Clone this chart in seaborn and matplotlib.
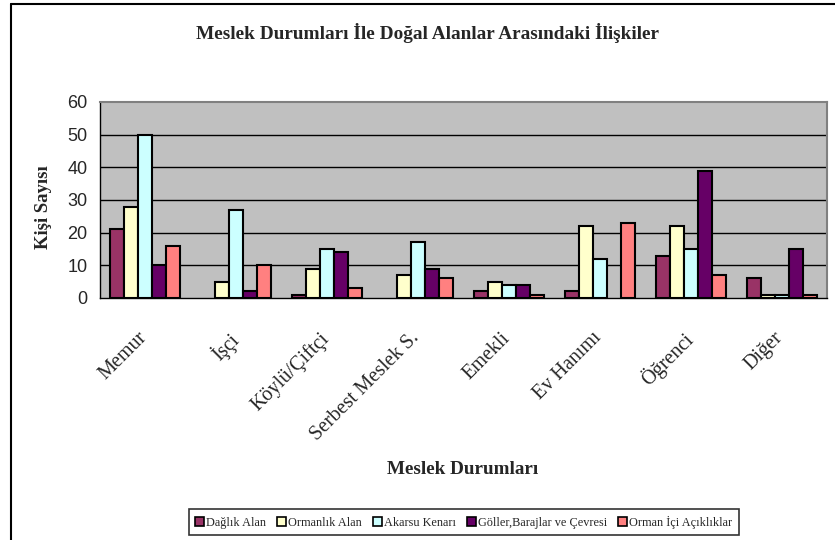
import matplotlib
matplotlib.use("Agg")
import matplotlib.pyplot as plt
from matplotlib.lines import Line2D
import seaborn as sns
import pandas as pd
import numpy as np

# categories and series
meslekler = ["Memur", "İşçi", "Köylü/Çiftçi", "Serbest Meslek S.", "Emekli",
             "Ev Hanımı", "Öğrenci", "Diğer"]
alanlar = ["Dağlık Alan", "Ormanlık Alan", "Akarsu Kenarı",
           "Göller,Barajlar ve Çevresi", "Orman İçi Açıklıklar"]
daglik = [21, 0, 1, 0, 2, 2, 13, 6]
ormanlik = [28, 5, 9, 7, 5, 22, 22, 1]
akarsu = [50, 27, 15, 17, 4, 12, 15, 1]
goller = [10, 2, 14, 9, 4, 0, 39, 15]
orman_ici = [16, 10, 3, 6, 1, 23, 7, 1]
y_ticks = [0, 10, 20, 30, 40, 50, 60]

renkler = ["#993366", "#FFFFCC", "#CCFFFF", "#660066", "#FF8080"]

sns.set_style("white")
plt.rcParams["font.family"] = ["Liberation Serif", "DejaVu Serif"]

rows = []
for alan, vals in zip(alanlar, [daglik, ormanlik, akarsu, goller, orman_ici]):
	for m, v in zip(meslekler, vals):
		rows.append({"Meslek": m, "Alan": alan, "Kisi": v})
df = pd.DataFrame(rows)

fig = plt.figure(figsize=(8.35, 5.4), dpi=100)
ax = fig.add_axes([100/835, 1-298/540, 727/835, 196/540])
ax.set_facecolor("#C0C0C0")

sns.barplot(data=df, x="Meslek", y="Kisi", hue="Alan", order=meslekler,
	hue_order=alanlar, palette=renkler, edgecolor="black", linewidth=1.5,
	width=0.77, gap=0, saturation=1, errorbar=None, ax=ax, zorder=3)

# Excel draws nothing for a zero value
for p in ax.patches:
	if p.get_height() == 0:
		p.set_visible(False)

ax.set_ylim(0, 60)
ax.set_xlim(-0.5, len(meslekler)-0.5)
ax.set_yticks(y_ticks)
ax.set_yticklabels([str(t) for t in y_ticks], family="Liberation Sans", fontsize=13)
for t in y_ticks[1:-1]:
	ax.axhline(t, color="black", linewidth=1, zorder=1)

# ticks between groups, labels a bit left of the centres (as Excel puts them)
ax.set_xticks(np.arange(-0.5, len(meslekler), 1))
ax.set_xticklabels([])
ax.set_xticks(np.arange(len(meslekler)) - 0.09, minor=True)
ax.set_xticklabels(meslekler, minor=True, rotation=45, ha="right",
	rotation_mode="anchor", fontsize=14.5)
ax.tick_params(axis="x", which="minor", length=0, pad=22)
ax.tick_params(axis="x", which="major", length=6, width=1, color="black", direction="out")
ax.tick_params(axis="y", length=6, width=1, color="black", direction="out", pad=3)

for s in ["top", "right"]:
	ax.spines[s].set_color("#808080")
	ax.spines[s].set_linewidth(1.5)
for s in ["left", "bottom"]:
	ax.spines[s].set_color("black")
	ax.spines[s].set_linewidth(1)

ax.set_xlabel("")
ax.set_ylabel("")
fig.text(44/835, 1-207/540, "Kişi Sayısı", rotation=90, ha="center", va="center",
	fontsize=13.5, fontweight="bold")
fig.text(463/835, 1-469/540, "Meslek Durumları", ha="center", va="center",
	fontsize=13.8, fontweight="bold")
fig.text(428/835, 1-33/540, "Meslek Durumları İle Doğal Alanlar Arasındaki İlişkiler",
	ha="center", va="center", fontsize=13.9, fontweight="bold")

ax.get_legend().remove()
handles = [plt.Rectangle((0, 0), 1, 1, facecolor=c, edgecolor="black", linewidth=1.2)
	for c in renkler]
leg = fig.legend(handles, alanlar, loc="center", bbox_to_anchor=(464/835, 1-522/540),
	ncol=5, fontsize=8.8, frameon=True, fancybox=False, handlelength=0.7,
	handleheight=0.7, handletextpad=0.2, columnspacing=0.9, borderpad=0.5)
leg.get_frame().set_edgecolor("black")
leg.get_frame().set_linewidth(1.2)

# outer chart frame
fig.add_artist(Line2D([11/835, 11/835], [0, 1-4/540], color="black", linewidth=1.5))
fig.add_artist(Line2D([11/835, 1], [1-4/540, 1-4/540], color="black", linewidth=1.5))

fig.savefig("out.png", dpi=100)
